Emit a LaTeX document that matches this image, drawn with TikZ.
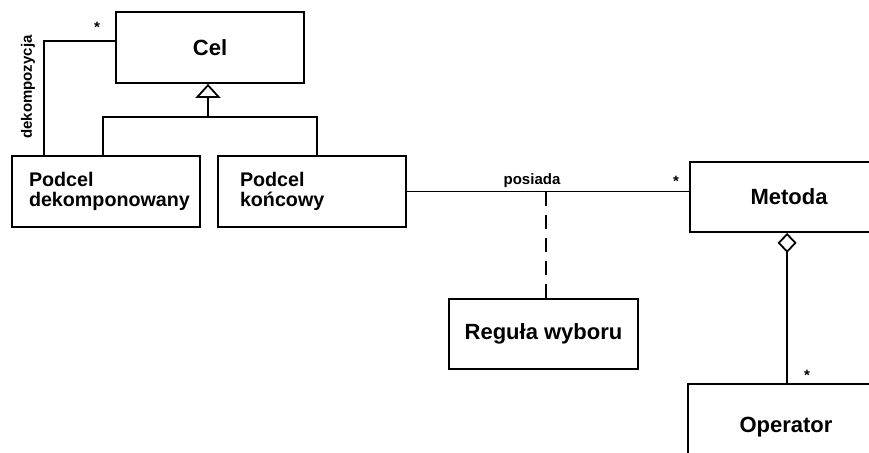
\documentclass[tikz,border=0pt]{standalone}
\usepackage{fontspec}
\setmainfont{Liberation Sans}
\usetikzlibrary{arrows.meta,calc}
\hfuzz=30pt
\begin{document}
\begin{tikzpicture}[x=1pt,y=-1pt,
  line width=1.8pt,
  box/.style={draw, line width=1.8pt, minimum width=188pt, minimum height=71pt, inner sep=0pt,
    font=\fontsize{22}{26}\selectfont\bfseries},
  sub/.style={box, align=left, font=\fontsize{19.7}{20}\selectfont\bfseries},
  small/.style={font=\fontsize{15}{18}\selectfont\bfseries, inner sep=0pt}]
\clip (0,0) rectangle (869,452);
\fill[white] (0,0) rectangle (869,452);
% classes
\node[box] (cel) at (210,47.5) {Cel};
\node[sub, text width=154pt, inner xsep=17pt] (pd) at (106,191.5) {Podcel\\dekomponowany};
\node[sub, text width=144pt, inner xsep=22pt] (pk) at (312,191.5) {Podcel\\końcowy};
\node[box, minimum width=198pt, minimum height=70pt] (met) at (789,197) {Metoda};
\node[box, minimum width=189pt, minimum height=70pt] (reg) at (543.5,334) {Reguła wyboru};
\node[box, minimum width=196pt, minimum height=86pt] (op) at (786,427) {Operator};
% decomposition association
\draw ([yshift=6.5pt]cel.west) -| ($(pd.north west)+(33,0)$);
\node[small] (s1) at (97,27) {*};
\node[small, rotate=90] (dek) at (28,87) {dekompozycja};
% generalization
\coordinate (g) at (208,117);
\draw ($(pd.north west)+(92,0)$) |- (g) -| ($(pk.north west)+(100,0)$);
\draw[-{Triangle[open,length=14pt,width=25pt,fill=white]}] (g) -- (g |- cel.south);
% posiada
\draw (pk.east) -- (pk.east -| met.west);
\node[small] (pos) at (532,181) {posiada};
\node[small] (s2) at (676,181) {*};
\coordinate (rn) at ([xshift=2.5pt]reg.north);
\draw[dash pattern=on 14pt off 9pt] (rn |- pk.east) -- (rn);
% aggregation
\coordinate (ag) at ($(met.south west)+(98,0)$);
\draw[{Diamond[open,length=20pt,width=19pt,fill=white]}-] (ag) -- (ag |- op.north);
\node[small] (s3) at (807,375) {*};
\end{tikzpicture}
\end{document}
